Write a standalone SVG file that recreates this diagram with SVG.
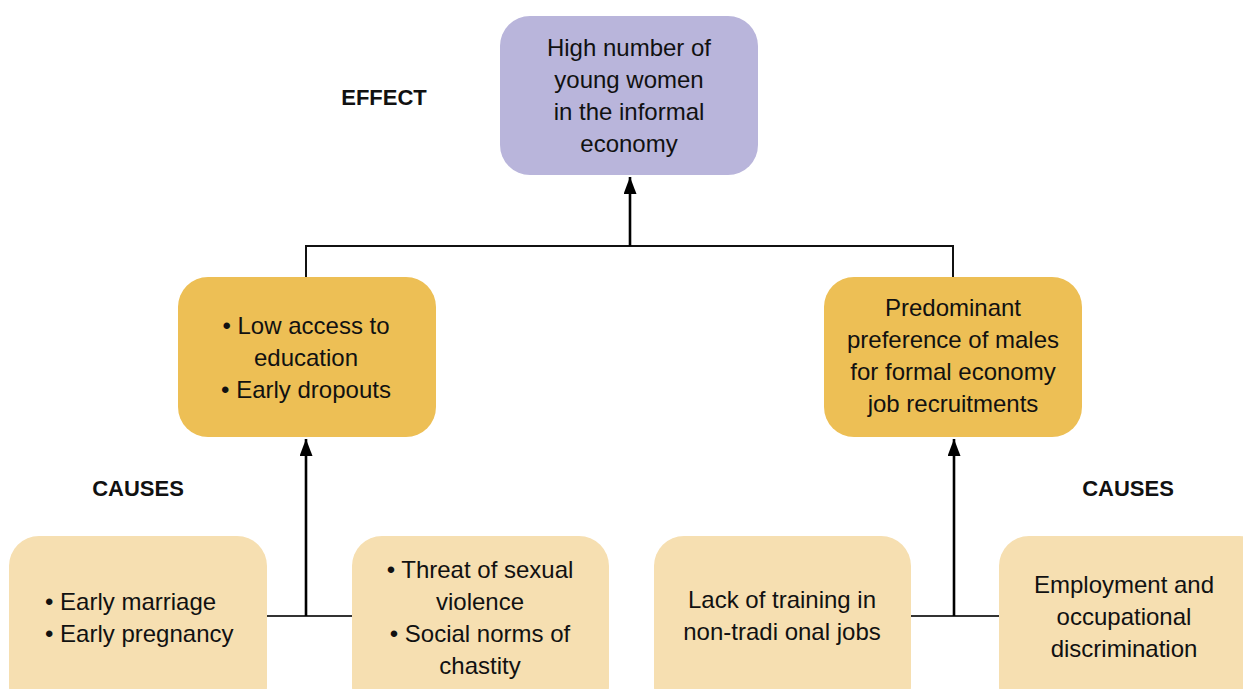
<svg xmlns="http://www.w3.org/2000/svg" width="1243" height="689" viewBox="0 0 1243 689">
<style>
.t{font-family:"Liberation Sans",Arial,sans-serif;font-size:24px;fill:#111;text-anchor:middle}
.l{text-anchor:start}
.h{font-family:"Liberation Sans",Arial,sans-serif;font-size:22px;font-weight:bold;fill:#111;text-anchor:middle}
.top{fill:#B9B5DB}
.mid{fill:#EDBF55}
.bot{fill:#F6DFB1}
.ln{fill:none;stroke:#111;stroke-width:2}
.ar{fill:none;stroke:#000;stroke-width:2.6}
.bl{fill:none;stroke:#333;stroke-width:2}
</style>
<defs>
<marker id="ah" markerUnits="userSpaceOnUse" viewBox="0 0 17 13" refX="17" refY="6.5" markerWidth="17" markerHeight="13" orient="auto">
<path d="M0,0 L17,6.5 L0,13 Z" fill="#000"/>
</marker>
</defs>
<rect width="1243" height="689" fill="#fff"/>
<g id="connectors">
<path class="ln" d="M306,278 V246 H953 V278"/>
<line class="ar" x1="630" y1="246" x2="630" y2="177" marker-end="url(#ah)"/>
<line class="bl" x1="264" y1="616" x2="355" y2="616"/>
<line class="ar" x1="306" y1="616" x2="306" y2="439" marker-end="url(#ah)"/>
<line class="bl" x1="910" y1="616" x2="1003" y2="616"/>
<line class="ar" x1="954" y1="616" x2="954" y2="439" marker-end="url(#ah)"/>
</g>
<g id="label-effect"><text class="h" x="384" y="105">EFFECT</text></g>
<g id="label-causes-left"><text class="h" x="138" y="496">CAUSES</text></g>
<g id="label-causes-right"><text class="h" x="1128" y="496">CAUSES</text></g>
<g id="effect">
<rect class="top" x="500" y="16" width="258" height="159" rx="30"/>
<text class="t" x="629" y="56">High number of</text>
<text class="t" x="629" y="88">young women</text>
<text class="t" x="629" y="120">in the informal</text>
<text class="t" x="629" y="152">economy</text>
</g>
<g id="cause-education">
<rect class="mid" x="178" y="277" width="258" height="160" rx="30"/>
<text class="t" x="306" y="334">• Low access to</text>
<text class="t" x="306" y="366">education</text>
<text class="t" x="306" y="398">• Early dropouts</text>
</g>
<g id="cause-preference">
<rect class="mid" x="824" y="277" width="258" height="160" rx="30"/>
<text class="t" x="953" y="316">Predominant</text>
<text class="t" x="953" y="348">preference of males</text>
<text class="t" x="953" y="380">for formal economy</text>
<text class="t" x="953" y="412">job recruitments</text>
</g>
<g id="root-marriage">
<rect class="bot" x="9" y="536" width="258" height="180" rx="30"/>
<text class="t l" x="45" y="610">• Early marriage</text>
<text class="t l" x="45" y="642">• Early pregnancy</text>
</g>
<g id="root-violence">
<rect class="bot" x="352" y="536" width="257" height="180" rx="30"/>
<text class="t" x="480" y="578">• Threat of sexual</text>
<text class="t" x="480" y="610">violence</text>
<text class="t" x="480" y="642">• Social norms of</text>
<text class="t" x="480" y="674">chastity</text>
</g>
<g id="root-training">
<rect class="bot" x="654" y="536" width="257" height="180" rx="30"/>
<text class="t" x="782" y="608">Lack of training in</text>
<text class="t" x="782" y="640">non-tradi onal jobs</text>
</g>
<g id="root-discrimination">
<rect class="bot" x="999" y="536" width="270" height="180" rx="30"/>
<text class="t" x="1124" y="593">Employment and</text>
<text class="t" x="1124" y="625">occupational</text>
<text class="t" x="1124" y="657">discrimination</text>
</g>
</svg>
